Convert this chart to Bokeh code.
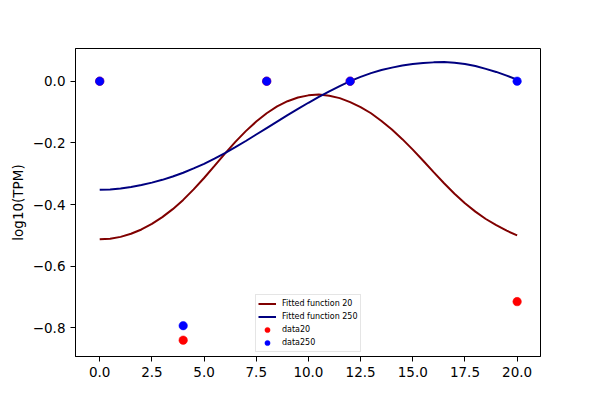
from bokeh.plotting import figure
from bokeh.models import Range1d, FixedTicker, Legend, LegendItem, ColumnDataSource
from bokeh.embed import file_html
from bokeh.resources import INLINE

# Fitted curves
fit_x = [0.0, 0.5, 1.0, 1.5, 2.0, 2.5, 3.0, 3.5, 4.0, 4.5, 5.0, 5.5, 6.0, 6.5, 7.0, 7.5,
         8.0, 8.5, 9.0, 9.5, 10.0, 10.5, 11.0, 11.5, 12.0, 12.5, 13.0, 13.5, 14.0, 14.5,
         15.0, 15.5, 16.0, 16.5, 17.0, 17.5, 18.0, 18.5, 19.0, 19.5, 20.0]
fit20 = [-0.513, -0.511, -0.505, -0.495, -0.481, -0.463, -0.441, -0.415, -0.385, -0.351,
         -0.314, -0.275, -0.235, -0.197, -0.162, -0.131, -0.104, -0.082, -0.065, -0.053,
         -0.046, -0.043, -0.047, -0.055, -0.068, -0.084, -0.104, -0.129, -0.157, -0.188,
         -0.222, -0.258, -0.295, -0.331, -0.365, -0.396, -0.423, -0.447, -0.467, -0.485,
         -0.500]
fit250 = [-0.352, -0.351, -0.348, -0.343, -0.337, -0.329, -0.320, -0.309, -0.297, -0.283,
          -0.268, -0.251, -0.233, -0.214, -0.194, -0.173, -0.152, -0.131, -0.110, -0.090,
          -0.070, -0.051, -0.033, -0.016, 0.000, 0.014, 0.026, 0.036, 0.044, 0.051,
          0.056, 0.059, 0.061, 0.062, 0.060, 0.056, 0.049, 0.040, 0.030, 0.018, 0.005]

# Measured data points
data_x = [0, 4, 8, 12, 20]
data20 = [0.0, -0.84, 0.0, 0.0, -0.715]
data250 = [0.0, -0.793, 0.0, 0.0, 0.0]

x_ticks = [0.0, 2.5, 5.0, 7.5, 10.0, 12.5, 15.0, 17.5, 20.0]
x_tick_labels = ["0.0", "2.5", "5.0", "7.5", "10.0", "12.5", "15.0", "17.5", "20.0"]
y_ticks = [-0.8, -0.6, -0.4, -0.2, 0.0]
y_tick_labels = ["\u22120.8", "\u22120.6", "\u22120.4", "\u22120.2", "0.0"]

FONT = "DejaVu Sans"

p = figure(width=584, height=384, output_backend="svg", toolbar_location=None,
           x_range=Range1d(-1.16, 21.12), y_range=Range1d(-0.893, 0.106),
           min_border_left=75, min_border_right=44, min_border_top=48, min_border_bottom=28)
p.background_fill_color = "white"
p.border_fill_color = "white"
p.outline_line_color = "black"
p.outline_line_alpha = 1.0
p.outline_line_width = 1
p.xgrid.visible = False
p.ygrid.visible = False

fit_src = ColumnDataSource(dict(x=fit_x, y20=fit20, y250=fit250))
pt_src = ColumnDataSource(dict(x=data_x, y20=data20, y250=data250))

r1 = p.line("x", "y20", source=fit_src, line_color="#800000", line_width=2)
r2 = p.line("x", "y250", source=fit_src, line_color="#000080", line_width=2)
r3 = p.scatter("x", "y20", source=pt_src, size=8.5, fill_color="#ff0000", line_color="#ff0000", line_width=0.5)
r4 = p.scatter("x", "y250", source=pt_src, size=8.5, fill_color="#0000ff", line_color="#0000ff", line_width=0.5)

for ax in (p.xaxis[0], p.yaxis[0]):
    ax.axis_line_color = "black"
    ax.major_tick_line_color = "black"
    ax.major_tick_in = 0
    ax.major_tick_out = 5
    ax.minor_tick_line_color = None
    ax.major_label_text_font = FONT
    ax.major_label_text_font_size = "13.5px"
    ax.major_label_text_color = "black"
    ax.major_label_standoff = 5
    ax.axis_label_text_font = FONT
    ax.axis_label_text_font_size = "13.5px"
    ax.axis_label_text_font_style = "normal"
    ax.axis_label_text_color = "black"

p.xaxis[0].ticker = FixedTicker(ticks=x_ticks)
p.xaxis[0].major_label_overrides = {t: l for t, l in zip(x_ticks, x_tick_labels)}
p.yaxis[0].ticker = FixedTicker(ticks=y_ticks)
p.yaxis[0].major_label_overrides = {t: l for t, l in zip(y_ticks, y_tick_labels)}
p.yaxis[0].axis_label = "log10(TPM)"
p.yaxis[0].axis_label_standoff = 4

legend = Legend(items=[
    LegendItem(label="Fitted function 20", renderers=[r1]),
    LegendItem(label="Fitted function 250", renderers=[r2]),
    LegendItem(label="data20", renderers=[r3]),
    LegendItem(label="data250", renderers=[r4]),
], location=(180, 4))
legend.margin = 0
legend.padding = 2
legend.spacing = 0
legend.glyph_width = 18
legend.glyph_height = 13
legend.label_height = 13
legend.label_standoff = 6
legend.label_text_font = FONT
legend.label_text_font_size = "8px"
legend.label_text_color = "black"
legend.border_line_color = "#cccccc"
legend.border_line_width = 1
legend.background_fill_color = "white"
legend.background_fill_alpha = 0.8
p.add_layout(legend, "center")

open("out.html", "w").write(file_html(p, INLINE))
